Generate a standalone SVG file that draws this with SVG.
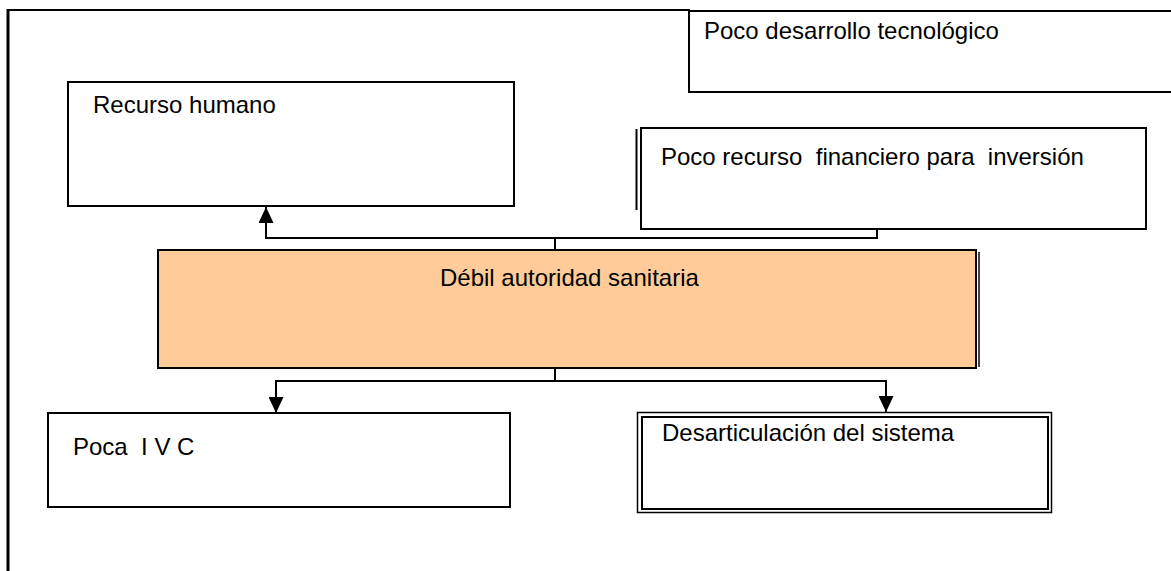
<svg xmlns="http://www.w3.org/2000/svg" width="1171" height="571" viewBox="0 0 1171 571">
<defs>
<style>
.box{fill:#ffffff;stroke:#000;stroke-width:2}
.lbl{font-family:"Liberation Sans",Arial,sans-serif;font-size:24px;fill:#000;white-space:pre}
.con{fill:none;stroke:#000;stroke-width:2}
</style>
<marker id="ah" viewBox="0 0 16 15" refX="16" refY="7.5" markerWidth="16" markerHeight="15" markerUnits="userSpaceOnUse" orient="auto">
<path d="M0,0 L16,7.5 L0,15 Z" fill="#000"/>
</marker>
</defs>
<rect width="1171" height="571" fill="#fff"/>
<g id="frame">
<line x1="7" y1="10" x2="690" y2="10" stroke="#000" stroke-width="2"/>
<line x1="8" y1="9" x2="8" y2="571" stroke="#000" stroke-width="3"/>
</g>
<g id="n-tecnologico">
<rect class="box" x="689" y="11" width="490" height="81"/>
<text class="lbl" x="704" y="39" xml:space="preserve">Poco desarrollo tecnológico</text>
</g>
<g id="n-recurso-humano">
<rect class="box" x="68" y="82" width="446" height="124"/>
<text class="lbl" x="93" y="113" xml:space="preserve">Recurso humano</text>
</g>
<g id="n-financiero">
<line x1="636.5" y1="129" x2="636.5" y2="210" stroke="#000" stroke-width="2"/>
<rect class="box" x="641" y="128" width="505" height="101"/>
<text class="lbl" x="661" y="165" xml:space="preserve">Poco recurso  financiero para  inversión</text>
</g>
<g id="n-debil">
<rect x="158" y="250" width="818" height="118" fill="#ffcc99" stroke="#000" stroke-width="2"/>
<line x1="979" y1="252" x2="979" y2="367" stroke="#000" stroke-width="1.5"/>
<text class="lbl" x="440" y="286" xml:space="preserve">Débil autoridad sanitaria</text>
</g>
<g id="n-ivc">
<rect class="box" x="48" y="413" width="462" height="94"/>
<text class="lbl" x="73" y="455" xml:space="preserve">Poca  I V C</text>
</g>
<g id="n-desarticulacion">
<rect x="637.5" y="412.5" width="414" height="100" fill="#fff" stroke="#000" stroke-width="1.5"/>
<rect x="642" y="417" width="406" height="92" fill="none" stroke="#000" stroke-width="2"/>
<text class="lbl" x="662" y="441" xml:space="preserve">Desarticulación del sistema</text>
</g>
<g id="connectors">
<polyline class="con" points="555,250 555,238"/>
<polyline class="con" points="877,229 877,238 266,238 266,207" marker-end="url(#ah)"/>
<polyline class="con" points="555,368 555,381"/>
<polyline class="con" points="555,381 276,381 276,413" marker-end="url(#ah)"/>
<polyline class="con" points="555,381 886,381 886,412" marker-end="url(#ah)"/>
</g>
</svg>
